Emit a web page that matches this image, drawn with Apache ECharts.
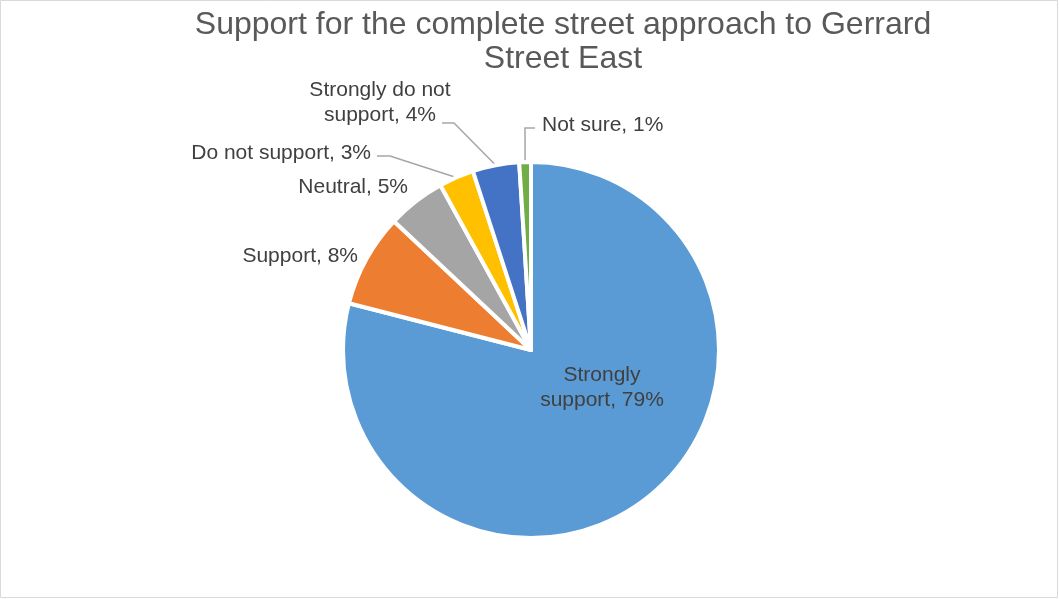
<!DOCTYPE html>
<html>
<head>
<meta charset="utf-8">
<title>Support for the complete street approach to Gerrard Street East</title>
<script src="https://cdn.jsdelivr.net/npm/echarts@6/dist/echarts.min.js"></script>
<style>
  html, body { margin: 0; padding: 0; background: #ffffff; }
  #chart { width: 1059px; height: 599px; }
</style>
</head>
<body>
<div id="chart"></div>
<script>
// Survey answers, in the order the slices run clockwise from 12 o'clock
const categories = ['Strongly support', 'Support', 'Neutral', 'Do not support', 'Strongly do not support', 'Not sure'];
const shares = [79, 8, 5, 3, 4, 1];
const sliceColors = ['#5B9BD5', '#ED7D31', '#A5A5A5', '#FFC000', '#4472C4', '#70AD47'];

// Names that wrap onto two lines in their labels
const wrappedNames = {
  'Strongly support': 'Strongly\nsupport',
  'Strongly do not support': 'Strongly do not\nsupport'
};

// Label placement: anchor point, alignment and, where drawn, the hook of the leader line
const labelSpots = [
  { x: 602, y: 388, align: 'center' },
  { x: 358, y: 256, align: 'right' },
  { x: 408, y: 187, align: 'right' },
  { x: 371, y: 153, align: 'right', hookX: 377, hookY: 156, elbow: 13 },
  { x: 380, y: 103, align: 'center', hookX: 442, hookY: 123, elbow: 12 },
  { x: 542, y: 125, align: 'left', hookX: 535, hookY: 128, elbow: -10 }
];
const noLeader = ['Support', 'Neutral'];

const font = '"Liberation Sans", Arial, Helvetica, sans-serif';
const chart = echarts.init(document.getElementById('chart'), null, { renderer: 'canvas' });

chart.setOption({
  animation: false,
  backgroundColor: '#ffffff',
  title: {
    text: 'Support for the complete street approach to Gerrard\nStreet East',
    left: 563,
    top: 8,
    padding: 0,
    textAlign: 'center',
    textStyle: {
      color: '#595959',
      fontSize: 32,
      fontWeight: 'normal',
      fontFamily: font,
      lineHeight: 34
    }
  },
  graphic: [{
    type: 'rect',
    silent: true,
    shape: { x: 0.5, y: 0.5, width: 1057, height: 597 },
    style: { fill: 'none', stroke: '#D9D9D9', lineWidth: 1 }
  }],
  series: [{
    type: 'pie',
    center: [531, 350],
    radius: 188,
    startAngle: 90,
    clockwise: true,
    avoidLabelOverlap: false,
    emphasis: { disabled: true },
    itemStyle: { borderColor: '#ffffff', borderWidth: 4 },
    label: {
      show: true,
      position: 'outside',
      color: '#404040',
      fontSize: 21,
      lineHeight: 25,
      fontFamily: font,
      formatter: function (p) {
        return (wrappedNames[p.name] || p.name) + ', ' + p.value + '%';
      }
    },
    labelLine: {
      show: true,
      length: 10,
      length2: 10,
      lineStyle: { color: '#A6A6A6', width: 1.5 }
    },
    labelLayout: function (p) {
      const s = labelSpots[p.dataIndex];
      const out = { x: s.x, y: s.y, align: s.align, verticalAlign: 'middle' };
      if (s.hookX != null && p.labelLinePoints) {
        const edge = p.labelLinePoints[0];
        out.labelLinePoints = [edge, [s.hookX + s.elbow, s.hookY], [s.hookX, s.hookY]];
      }
      return out;
    },
    data: categories.map(function (name, i) {
      const item = { name: name, value: shares[i], itemStyle: { color: sliceColors[i] } };
      if (i === 0) item.label = { position: 'inside' };
      if (noLeader.indexOf(name) >= 0) item.labelLine = { show: false };
      return item;
    })
  }]
});
</script>
</body>
</html>
